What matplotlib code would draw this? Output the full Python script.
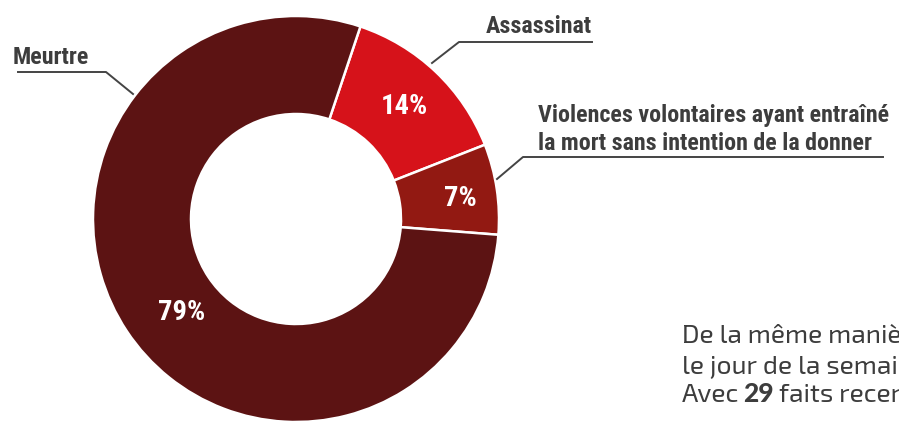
import matplotlib
matplotlib.use("Agg")
import matplotlib.pyplot as plt

# data
categories = ["Assassinat", "Violences volontaires ayant entraîné\nla mort sans intention de la donner", "Meurtre"]
shares = [13.9, 7.2, 78.9]
pct_labels = ["14%", "7%", "79%"]
colors = ["#d6121a", "#921912", "#5c1313"]

label_font = ["Roboto Condensed", "Barlow Condensed", "DejaVu Sans"]
body_font = ["Exo 2", "Lato", "DejaVu Sans"]
text_grey = "#3d3d3d"

W, H = 899, 421
fig = plt.figure(figsize=(W / 100, H / 100), dpi=100)
ax = fig.add_axes([0, 0, 1, 1])

# donut (y axis flipped, so counterclock=True draws clockwise on screen)
ax.pie(shares, colors=colors, center=(296, 219), radius=203,
       startangle=-71.5, counterclock=True, frame=True,
       wedgeprops=dict(width=98, edgecolor="white", linewidth=1.8))
ax.set_xlim(0, W)
ax.set_ylim(H, 0)  # pixel coordinates, y down
ax.axis("off")

# percentage labels
pct_pos = [(404, 106), (460, 199), (182, 313)]
for (x, y), t in zip(pct_pos, pct_labels):
    ax.text(x, y, t, color="white", fontsize=20.5, fontweight="bold",
            family=label_font, ha="center", va="center")

# category labels with leader lines
ax.text(13, 64, categories[2], color=text_grey, fontsize=17.3, fontweight="bold",
        family=label_font, ha="left", va="baseline")
ax.plot([18, 106, 133], [72, 72, 94], color="#444444", lw=1.4)

ax.text(592, 33, categories[0], color=text_grey, fontsize=17.3, fontweight="bold",
        family=label_font, ha="right", va="baseline")
ax.plot([592, 459, 432], [42, 42, 63], color="#444444", lw=1.4)

ax.text(538, 150, categories[1], color=text_grey, fontsize=17.3, fontweight="bold",
        family=label_font, ha="left", va="baseline", linespacing=1.3)
ax.plot([883, 523, 497], [157, 157, 179], color="#444444", lw=1.4)

# body text (cut off at the right edge, as in the source)
ax.text(682, 343, "De la même manière", color=text_grey, fontsize=19,
        family=body_font, ha="left", va="baseline")
ax.text(682, 373, "le jour de la semaine", color=text_grey, fontsize=19,
        family=body_font, ha="left", va="baseline")
ax.text(682, 402, "Avec", color=text_grey, fontsize=19,
        family=body_font, ha="left", va="baseline")
ax.text(743, 402, "29", color=text_grey, fontsize=19, fontweight="black",
        family=["Lato", "DejaVu Sans"], ha="left", va="baseline")
ax.text(779, 402, "faits recensés", color=text_grey, fontsize=19,
        family=body_font, ha="left", va="baseline")

fig.savefig("out.png", dpi=100, facecolor="white")
